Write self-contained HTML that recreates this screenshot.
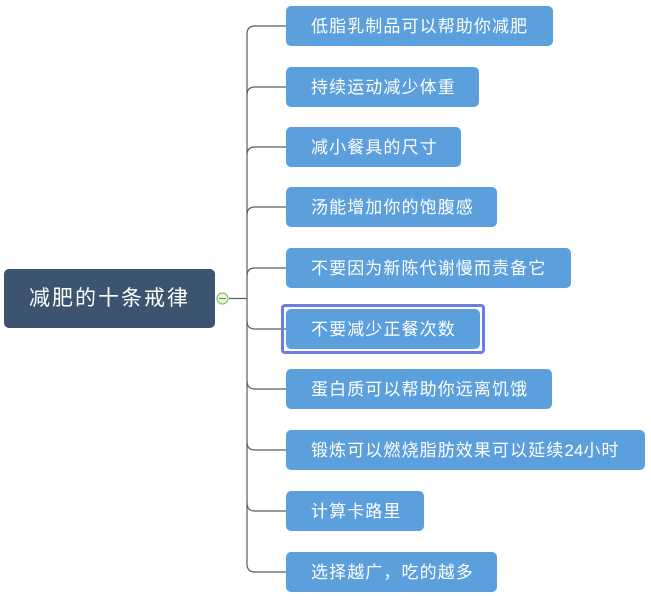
<!DOCTYPE html>
<html><head><meta charset="utf-8"><style>
body{margin:0;background:#fff;width:651px;height:603px;overflow:hidden;position:relative;font-family:"Liberation Sans","Noto Sans CJK SC",sans-serif}
.n{position:absolute;left:286px;height:40px;background:#5b9fdc;border-radius:5px;color:#fff;font-size:17px;line-height:42px;padding-left:25px;box-sizing:border-box;letter-spacing:1.1px;white-space:nowrap;overflow:hidden}
.root{position:absolute;left:4px;top:269px;width:211px;height:59px;background:#3c5470;border-radius:5px;color:#fff;font-size:21px;line-height:60px;text-align:center;letter-spacing:2px}
.sel{position:absolute;left:281px;top:304px;width:204px;height:50px;border:3px solid #6b7ee0;border-radius:4px;box-sizing:border-box}
svg{position:absolute;left:0;top:0}
</style></head><body>
<svg width="651" height="603">
<g fill="none" stroke="#555f6b" stroke-width="1.2">
<line x1="229" y1="298.5" x2="247" y2="298.5"/>
<path d="M247 34 Q247 26 255 26 H286"/>
<path d="M247 34 V564 Q247 572 255 572 H286"/>
<path d="M247 95 Q247 87 255 87 H286"/>
<path d="M247 155 Q247 147 255 147 H286"/>
<path d="M247 215 Q247 207 255 207 H286"/>
<path d="M247 276 Q247 268 255 268 H286"/>
<path d="M247 321 Q247 329 255 329 H286"/>
<path d="M247 381 Q247 389 255 389 H286"/>
<path d="M247 442 Q247 450 255 450 H286"/>
<path d="M247 503 Q247 511 255 511 H286"/>
</g>
<circle cx="222.5" cy="298.5" r="5.5" fill="#e8f5dc" stroke="#7cb860" stroke-width="1"/>
<line x1="219" y1="298.5" x2="226" y2="298.5" stroke="#5a9a40" stroke-width="1"/>
</svg>
<div class="root">减肥的十条戒律</div>
<div class="n" style="top:6px;width:267px">低脂乳制品可以帮助你减肥</div>
<div class="n" style="top:67px;width:193px">持续运动减少体重</div>
<div class="n" style="top:127px;width:175px">减小餐具的尺寸</div>
<div class="n" style="top:187px;width:211px">汤能增加你的饱腹感</div>
<div class="n" style="top:248px;width:285px">不要因为新陈代谢慢而责备它</div>
<div class="sel"></div>
<div class="n" style="top:309px;width:194px">不要减少正餐次数</div>
<div class="n" style="top:369px;width:266px">蛋白质可以帮助你远离饥饿</div>
<div class="n" style="top:430px;width:359px">锻炼可以燃烧脂肪效果可以延续<span style="letter-spacing:0">24</span>小时</div>
<div class="n" style="top:491px;width:138px">计算卡路里</div>
<div class="n" style="top:552px;width:211px">选择越广，吃的越多</div>
</body></html>
